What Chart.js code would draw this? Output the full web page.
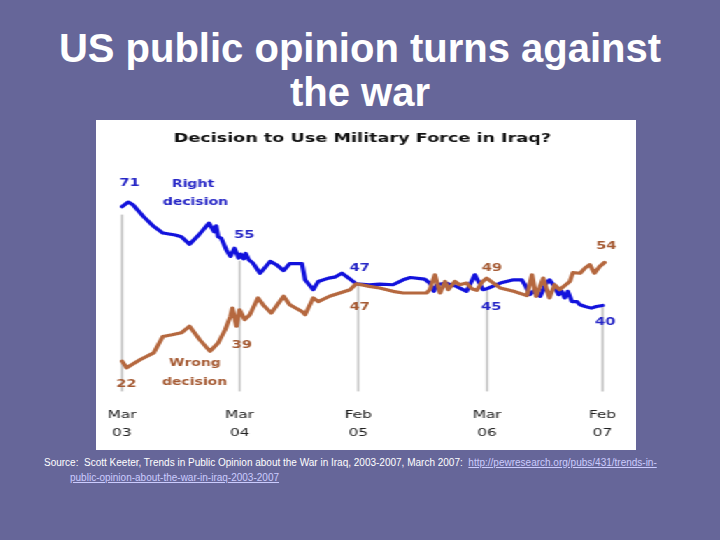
<!DOCTYPE html>
<html><head><meta charset="utf-8">
<script src="https://cdn.jsdelivr.net/npm/chart.js@4"></script>
<style>
html,body{margin:0;padding:0;}
body{width:720px;height:540px;background:#666699;position:relative;overflow:hidden;font-family:'Liberation Sans',Arial,sans-serif;}
#title{position:absolute;left:0;top:26px;width:720px;text-align:center;color:#fff;font-weight:bold;font-size:40px;line-height:44px;}
#box{position:absolute;left:96px;top:120px;width:386px;height:330px;background:#fff;transform:scaleX(1.39896);transform-origin:0 0;}
#src{position:absolute;left:44px;top:455px;color:#fff;font-size:10px;line-height:15px;white-space:pre;}
#src a{color:#ccccff;text-decoration:underline;}
#src .l2{padding-left:26px;}
</style>
</head><body>
<div id="title">US public opinion turns against<br>the war</div>
<div id="box"><canvas id="c" width="386" height="330"></canvas></div>
<div id="src"><div>Source:  Scott Keeter, Trends in Public Opinion about the War in Iraq, 2003-2007, March 2007:  <a href="http://pewresearch.org/pubs/431/trends-in-public-opinion-about-the-war-in-iraq-2003-2007">http://pewresearch.org/pubs/431/trends-in-</a></div><div class="l2"><a href="http://pewresearch.org/pubs/431/trends-in-public-opinion-about-the-war-in-iraq-2003-2007">public-opinion-about-the-war-in-iraq-2003-2007</a></div></div>
<script>
// x = position along the time axis (Mar 2003 = 0 ... Feb 2007 = 47)
const chartTitle = 'Decision to Use Military Force in Iraq?';
const seriesNames = ['Right decision', 'Wrong decision'];

const rightMonths = [0.0,0.6,1.1,2.1,3.1,4.0,5.2,5.8,6.6,7.5,8.5,8.8,9.0,9.2,9.4,9.7,10.2,10.6,11.0,11.4,11.6,11.9,12.1,12.4,12.8,13.5,14.5,15.1,15.8,16.4,17.6,17.9,18.7,19.2,20.2,20.8,21.5,22.3,22.9,24.2,25.2,26.5,27.5,28.2,29.6,30.1,30.5,30.8,31.7,32.7,33.7,34.5,35.3,35.7,37.0,38.3,39.1,39.4,39.9,40.4,40.9,41.4,41.8,42.3,42.7,43.0,43.3,43.6,44.0,44.5,44.8,45.3,45.9,46.4,47.0];
const rightValues = [70.4,71.8,70.9,67.4,64.4,62.4,61.8,61.3,59.0,61.8,65.4,63.9,62.8,64.6,61.3,60.8,57.3,55.3,57.8,54.8,56.0,54.6,56.2,54.3,53.3,50.2,53.8,52.8,51.0,53.1,53.1,48.2,45.2,47.7,48.7,49.0,50.2,48.4,47.0,46.7,46.9,46.7,48.2,48.9,48.4,47.2,44.7,46.7,47.2,46.2,44.7,49.7,45.2,45.5,47.2,48.2,48.2,46.7,43.7,45.2,43.2,46.7,48.2,46.2,43.7,44.7,42.7,44.7,41.6,41.6,40.6,40.1,39.6,40.1,40.4];

const wrongMonths = [0.0,0.45,1.8,3.1,4.0,4.9,5.8,6.6,7.6,8.6,9.4,10.1,10.6,10.8,11.2,11.5,12.0,12.5,13.3,13.8,14.6,15.8,16.4,17.6,17.9,18.7,19.2,20.3,21.3,22.3,22.9,24.2,25.2,26.5,27.5,29.8,30.1,30.6,31.1,31.6,31.9,32.55,33.0,33.7,34.2,34.7,35.2,35.65,37.0,38.3,39.6,40.1,40.5,41.2,41.8,42.3,42.8,43.8,44.1,44.8,45.3,45.75,46.2,46.7,47.2];
const wrongValues = [23.5,21.5,24.0,26.0,31.0,31.5,32.1,34.1,30.0,26.5,29.0,33.1,37.1,39.6,34.1,39.1,36.1,37.6,42.7,40.6,38.1,43.2,40.6,38.6,37.6,42.7,41.6,43.2,44.2,45.2,47.0,46.2,45.7,44.7,44.2,44.2,45.2,49.7,44.2,47.7,45.2,47.7,46.7,47.2,45.5,45.0,47.5,48.7,45.7,44.7,43.4,49.7,43.2,48.7,42.7,46.7,45.2,47.7,50.4,50.2,51.8,52.8,50.2,52.2,53.5];

const tickPositions = [0, 11.5, 23.1, 35.7, 47];
const tickLabels = [['Mar','03'],['Mar','04'],['Feb','05'],['Mar','06'],['Feb','07']];
const markerTops = [68, 54, 47, 45, 40];
const markerBase = 14.3;

const labelTexts  = ['71','Right','decision','55','47','47','49','45','54','40','39','22','Wrong','decision'];
const labelMonths = [0.73,6.94,7.18,11.97,23.26,23.26,36.17,36.12,47.36,47.26,11.73,0.44,7.14,7.1];
const labelValues = [77.45,77.3,71.85,61.7,51.85,39.9,51.85,39.9,58.4,35.3,28.2,16.55,22.8,17.0];
const labelSeries = [0,0,0,0,0,1,1,0,1,0,1,1,1,1];

const BLUE = '#1212dc', BROWN = '#b5683f';
const TEXT_COLORS = ['#2626c6', '#a55a33'];

const labelPlugin = {
  id: 'seriesLabels',
  afterDatasetsDraw(chart) {
    const {ctx, scales: {x, y}} = chart;
    ctx.save();
    ctx.textAlign = 'center';
    ctx.textBaseline = 'middle';
    labelTexts.forEach((t, i) => {
      const isNum = /^\d+$/.test(t);
      ctx.font = (isNum ? 'bold 10.5px' : 'bold 10px') + ' "DejaVu Sans"';
      ctx.fillStyle = TEXT_COLORS[labelSeries[i]];
      ctx.fillText(t, x.getPixelForValue(labelMonths[i]), y.getPixelForValue(labelValues[i]));
    });
    ctx.restore();
  }
};

const toPts = (xs, ys) => xs.map((m, i) => ({x: m, y: ys[i]}));
const lineStyle = {pointRadius: 0, tension: 0, clip: false, borderJoinStyle: 'round', borderCapStyle: 'round', fill: false};

const datasets = [
  Object.assign({label: seriesNames[1], data: toPts(wrongMonths, wrongValues), borderColor: BROWN, borderWidth: 3.2}, lineStyle),
  Object.assign({label: seriesNames[0], data: toPts(rightMonths, rightValues), borderColor: BLUE, borderWidth: 3.2}, lineStyle)
].concat(tickPositions.map((m, i) => Object.assign({
  label: 'marker' + i,
  data: [{x: m, y: markerBase}, {x: m, y: markerTops[i]}],
  borderColor: '#c3c3c3', borderWidth: 1.6
}, lineStyle, {borderCapStyle: 'butt'})));

new Chart(document.getElementById('c'), {
  type: 'line',
  data: {datasets},
  options: {
    responsive: false,
    animation: false,
    events: [],
    layout: {padding: {left: 18.6, right: 23.9, top: 0, bottom: 0}},
    plugins: {
      legend: {display: false},
      tooltip: {enabled: false},
      title: {
        display: true, text: chartTitle, color: '#111',
        font: {family: '"DejaVu Sans"', size: 12.6, weight: 'bold'},
        padding: {top: 11, bottom: 28.98}
      }
    },
    scales: {
      x: {
        type: 'linear', min: 0, max: 47,
        afterBuildTicks: (scale) => { scale.ticks = tickPositions.map(v => ({value: v})); },
        grid: {display: false, drawTicks: false},
        border: {display: false},
        ticks: {
          autoSkip: false, maxRotation: 0, padding: 7.5, color: '#222',
          font: {family: '"DejaVu Sans"', size: 11, lineHeight: '18px'},
          callback: (value, index) => tickLabels[index]
        }
      },
      y: {type: 'linear', min: 12, max: 80, display: false}
    }
  },
  plugins: [labelPlugin]
});
</script>
</body></html>
